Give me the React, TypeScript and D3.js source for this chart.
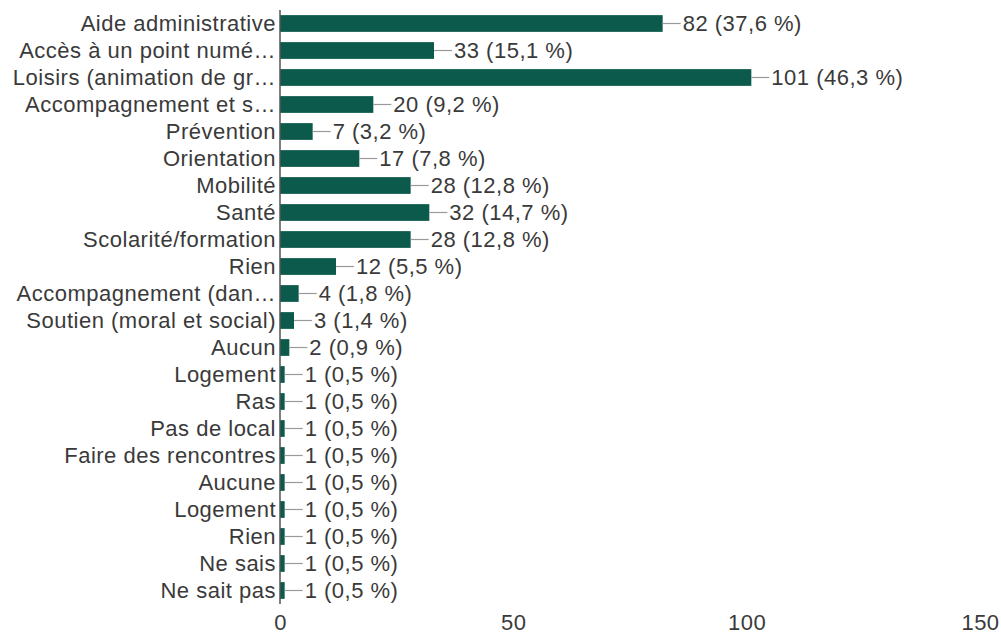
import * as React from "react";
import * as d3 from "d3";

const categories: string[] = [
    "Aide administrative",
    "Accès à un point numé…",
    "Loisirs (animation de gr…",
    "Accompagnement et s…",
    "Prévention",
    "Orientation",
    "Mobilité",
    "Santé",
    "Scolarité/formation",
    "Rien",
    "Accompagnement (dan…",
    "Soutien (moral et social)",
    "Aucun",
    "Logement",
    "Ras",
    "Pas de local",
    "Faire des rencontres",
    "Aucune",
    "Logement",
    "Rien",
    "Ne sais",
    "Ne sait pas",
];
const counts: number[] = [82, 33, 101, 20, 7, 17, 28, 32, 28, 12, 4, 3, 2, 1, 1, 1, 1, 1, 1, 1, 1, 1];
const percents: string[] = [
    "37,6", "15,1", "46,3", "9,2", "3,2", "7,8", "12,8", "14,7", "12,8", "5,5",
    "1,8", "1,4", "0,9", "0,5", "0,5", "0,5", "0,5", "0,5", "0,5", "0,5", "0,5", "0,5",
];
const xTicks: number[] = [0, 50, 100, 150];

const width: number = 1001;
const height: number = 640;
const barColor: string = "#0c5a4b";
const textColor: string = "#3a3a3a";
const font: string = "'Liberation Sans', Arial, sans-serif";

export default function App(): JSX.Element {
    const axisRef = React.useRef<SVGGElement>(null);

    const x = d3.scaleLinear().domain([0, 150]).range([280, 980]);
    const y = d3.scaleBand<number>()
        .domain(d3.range(categories.length))
        .range([10, 604])
        .paddingInner(0.38)
        .paddingOuter(0.19);

    React.useEffect(() => {
        const g = d3.select(axisRef.current);
        g.selectAll("*").remove();
        g.call(d3.axisBottom(x).tickValues(xTicks).tickSize(0).tickPadding(0));
        g.select(".domain").remove();
        g.selectAll("text")
            .attr("font-size", 22)
            .attr("font-family", font)
            .attr("letter-spacing", "0.5px")
            .attr("fill", textColor)
            .attr("dy", "0.35em")
            .attr("y", 0);
    }, []);

    return (
        <div style={{ position: "absolute", left: 0, top: 0 }}>
            <svg width={width} height={height} style={{ display: "block", background: "#fff" }}>
                {categories.map((c, i) => {
                    const cy = (y(i) as number) + y.bandwidth() / 2;
                    const x1 = x(counts[i]);
                    return (
                        <g key={i}>
                            <text x={276} y={cy} textAnchor="end" dominantBaseline="central"
                                fontSize={22} fontFamily={font} letterSpacing="0.5px" fill={textColor}>{c}</text>
                            <rect x={x(0)} y={y(i)} width={x1 - x(0)} height={y.bandwidth()} fill={barColor} />
                            <line x1={x1} x2={x1 + 18} y1={cy} y2={cy} stroke="#9a9a9a" strokeWidth={1.2} />
                            <text x={x1 + 20} y={cy} dominantBaseline="central"
                                fontSize={22} fontFamily={font} letterSpacing="0.5px" fill={textColor}>
                                {`${counts[i]} (${percents[i]} %)`}
                            </text>
                        </g>
                    );
                })}
                <line x1={x(0)} x2={x(0)} y1={10} y2={604} stroke="#555" strokeWidth={1.5} />
                <g ref={axisRef} transform="translate(0, 622)" />
            </svg>
        </div>
    );
}
